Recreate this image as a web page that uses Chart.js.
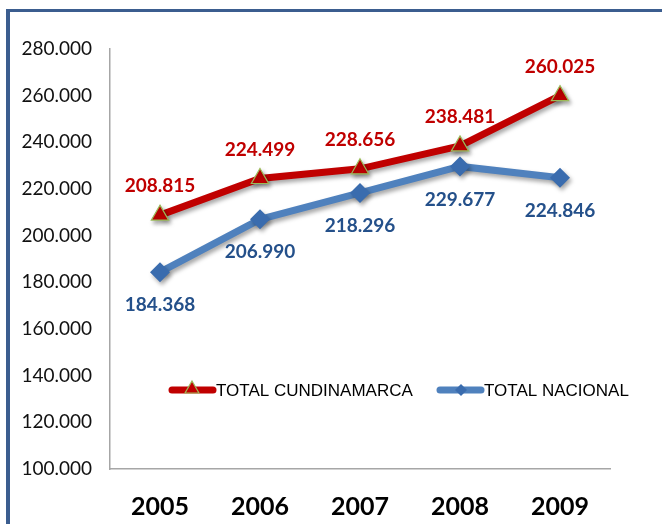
<!DOCTYPE html>
<html>
<head>
<meta charset="utf-8">
<script src="https://cdn.jsdelivr.net/npm/chart.js@4/dist/chart.umd.min.js"></script>
<style>
  html, body { margin: 0; padding: 0; background: #fff; }
  #wrap { position: relative; width: 662px; height: 524px; overflow: hidden; }
  #frameTop { position: absolute; left: 6px; top: 9px; width: 656px; height: 3px; background: #3b5d8f; }
  #frameLeft { position: absolute; left: 6px; top: 9px; width: 4px; height: 515px; background: #3b5d8f; }
  canvas { position: absolute; left: 0; top: 0; }
</style>
</head>
<body>
<div id="wrap">
  <canvas id="chart" width="662" height="524"></canvas>
  <div id="frameTop"></div>
  <div id="frameLeft"></div>
</div>
<script>
const years = ["2005", "2006", "2007", "2008", "2009"];
const totalCundinamarca = [208815, 224499, 228656, 238481, 260025];
const totalNacional = [184368, 206990, 218296, 229677, 224846];
const yMin = 100000;
const yMax = 280000;
const yStep = 20000;

const RED = "#c00000";
const BLUE = "#4f81bd";
const BLUE_DARK = "#3a6cae";
const BLUE_LABEL = "#24508a";

// thousands with a dot: 208815 -> "208.815"
function fmt(v) {
    return String(Math.round(v)).replace(/\B(?=(\d{3})+(?!\d))/g, ".");
}

// soft drop shadow under the lines
const lineShadow = {
    id: "lineShadow",
    beforeDatasetDraw(chart) {
        const ctx = chart.ctx;
        ctx.save();
        ctx.shadowColor = "rgba(0,0,0,0.35)";
        ctx.shadowBlur = 4;
        ctx.shadowOffsetX = 2;
        ctx.shadowOffsetY = 3;
    },
    afterDatasetDraw(chart) {
        chart.ctx.restore();
    }
};

// value labels: red above the point, blue below
const valueLabels = {
    id: "valueLabels",
    afterDatasetsDraw(chart) {
        const ctx = chart.ctx;
        ctx.save();
        ctx.font = "bold 19px Lato";
        ctx.textAlign = "center";
        ctx.textBaseline = "middle";
        chart.data.datasets.forEach((ds, i) => {
            const meta = chart.getDatasetMeta(i);
            meta.data.forEach((pt, j) => {
                ctx.fillStyle = ds.labelColor;
                ctx.fillText(fmt(ds.data[j]), pt.x, pt.y + ds.labelOffset);
            });
        });
        ctx.restore();
    }
};

function triangle(ctx, x, y, r) {
    ctx.beginPath();
    ctx.moveTo(x, y - r);
    ctx.lineTo(x + r * 0.866, y + r * 0.5);
    ctx.lineTo(x - r * 0.866, y + r * 0.5);
    ctx.closePath();
}

function diamond(ctx, x, y, r) {
    ctx.beginPath();
    ctx.moveTo(x, y - r);
    ctx.lineTo(x + r, y);
    ctx.lineTo(x, y + r);
    ctx.lineTo(x - r, y);
    ctx.closePath();
}

// legend sitting inside the plot
const innerLegend = {
    id: "innerLegend",
    afterDraw(chart) {
        const ctx = chart.ctx;
        const y = 390;
        ctx.save();
        ctx.lineCap = "round";
        ctx.lineWidth = 7;

        ctx.strokeStyle = RED;
        ctx.beginPath();
        ctx.moveTo(172, y);
        ctx.lineTo(213, y);
        ctx.stroke();
        triangle(ctx, 192, y - 1, 8);
        ctx.fillStyle = RED;
        ctx.fill();
        ctx.lineWidth = 1.2;
        ctx.strokeStyle = "#9bbb59";
        ctx.stroke();

        ctx.lineWidth = 7;
        ctx.strokeStyle = BLUE;
        ctx.beginPath();
        ctx.moveTo(440, y);
        ctx.lineTo(481, y);
        ctx.stroke();
        diamond(ctx, 461, y, 6);
        ctx.fillStyle = BLUE_DARK;
        ctx.fill();

        ctx.fillStyle = "#000";
        ctx.font = "17px 'Liberation Sans'";
        ctx.textBaseline = "middle";
        ctx.fillText("TOTAL CUNDINAMARCA", 216, y + 1);
        ctx.fillText("TOTAL NACIONAL", 484, y + 1);
        ctx.restore();
    }
};

new Chart(document.getElementById("chart"), {
    type: "line",
    data: {
        labels: years,
        datasets: [
            {
                label: "TOTAL CUNDINAMARCA",
                data: totalCundinamarca,
                borderColor: RED,
                borderWidth: 7,
                backgroundColor: RED,
                pointStyle: "triangle",
                pointRadius: 10,
                pointBackgroundColor: RED,
                pointBorderColor: "#9bbb59",
                pointBorderWidth: 1.2,
                tension: 0,
                labelColor: RED,
                labelOffset: -29
            },
            {
                label: "TOTAL NACIONAL",
                data: totalNacional,
                borderColor: BLUE,
                borderWidth: 7,
                backgroundColor: BLUE_DARK,
                pointStyle: "rectRot",
                pointRadius: 10,
                pointBackgroundColor: BLUE_DARK,
                pointBorderColor: BLUE_DARK,
                pointBorderWidth: 0,
                tension: 0,
                labelColor: BLUE_LABEL,
                labelOffset: 33
            }
        ]
    },
    options: {
        responsive: false,
        animation: false,
        layout: { padding: { top: 49, right: 52, bottom: 0, left: 0 } },
        plugins: {
            legend: { display: false },
            tooltip: { enabled: false }
        },
        scales: {
            x: {
                offset: true,
                grid: { display: false, drawTicks: false },
                border: { color: "#a6a6a6", width: 1.5 },
                ticks: {
                    color: "#000",
                    font: { family: "Lato", size: 25, weight: "bold" },
                    padding: 23,
                    maxRotation: 0
                },
                afterFit(scale) { scale.height = 55; }
            },
            y: {
                min: yMin,
                max: yMax,
                grid: { display: false, drawTicks: false },
                border: { color: "#a6a6a6", width: 1.5 },
                ticks: {
                    stepSize: yStep,
                    color: "#111",
                    font: { family: "Lato", size: 19 },
                    padding: 18,
                    callback: (v) => fmt(v)
                },
                afterFit(scale) { scale.width = 110; }
            }
        }
    },
    plugins: [lineShadow, valueLabels, innerLegend]
});
</script>
</body>
</html>
